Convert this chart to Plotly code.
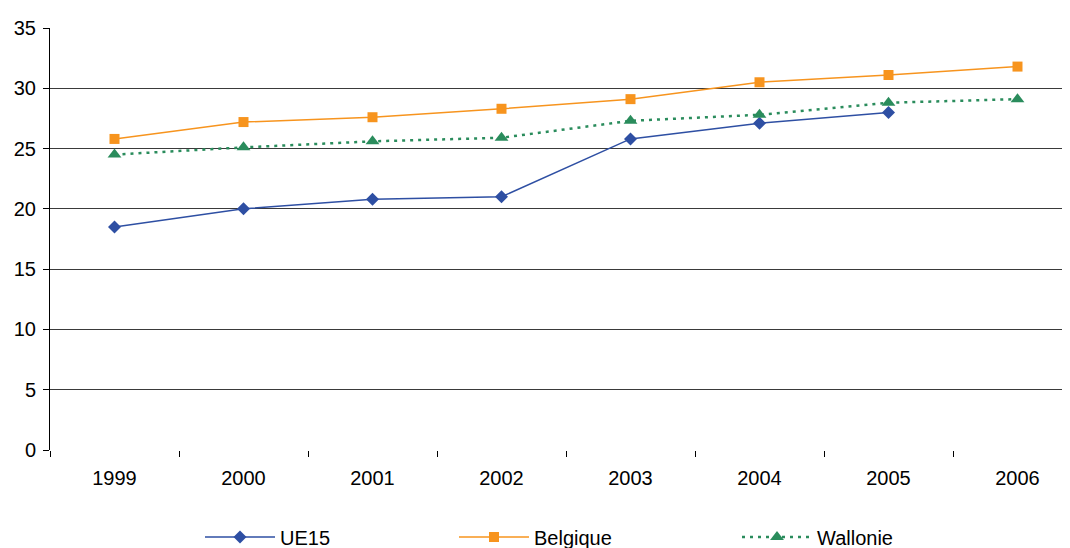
import plotly.graph_objects as go

# data
years = ["1999", "2000", "2001", "2002", "2003", "2004", "2005", "2006"]
ue15 = [18.5, 20.0, 20.8, 21.0, 25.8, 27.1, 28.0, None]
belgique = [25.8, 27.2, 27.6, 28.3, 29.1, 30.5, 31.1, 31.8]
wallonie = [24.5, 25.1, 25.6, 25.9, 27.3, 27.8, 28.8, 29.1]
y_ticks = [0, 5, 10, 15, 20, 25, 30, 35]

# page body has an 8px margin, so the figure is drawn 8px smaller
W, H = 1062, 540
FONT = "Liberation Sans, Arial, sans-serif"
idx = list(range(len(years)))

fig = go.Figure()
fig.add_trace(go.Scatter(
    x=idx, y=ue15, name="UE15", mode="lines+markers",
    line=dict(color="#2E4FA3", width=1.5),
    marker=dict(symbol="diamond", size=10, color="#2E4FA3"),
    legend="legend",
))
fig.add_trace(go.Scatter(
    x=idx, y=belgique, name="Belgique", mode="lines+markers",
    line=dict(color="#F7941E", width=1.5),
    marker=dict(symbol="square", size=10, color="#F7941E"),
    legend="legend2",
))
fig.add_trace(go.Scatter(
    x=idx, y=wallonie, name="Wallonie", mode="lines+markers",
    line=dict(color="#2A8C5C", width=2.5, dash="3px,5px"),
    marker=dict(symbol="triangle-up", size=12, color="#2A8C5C"),
    legend="legend3",
))

left, right, top, bottom = 42, 0, 20, 98
plot_w = W - left - right
plot_h = H - top - bottom
px_per_cat = 129
x_max = -0.5 + plot_w / px_per_cat

leg_y = (H - bottom - 529) / plot_h
leg = dict(
    orientation="h", xanchor="left", yanchor="middle", y=leg_y,
    font=dict(family=FONT, size=20, color="black"),
    itemwidth=70, bgcolor="rgba(0,0,0,0)", borderwidth=0,
)

def leg_x(px):
    return (px - 8 - left) / plot_w

fig.update_layout(
    width=W, height=H,
    margin=dict(l=left, r=right, t=top, b=bottom, autoexpand=False),
    paper_bgcolor="white", plot_bgcolor="white",
    font=dict(family=FONT, size=20, color="black"),
    showlegend=True,
    xaxis=dict(
        range=[-0.5, x_max],
        tickvals=idx, ticktext=years,
        ticks="", showgrid=False, zeroline=False,
        showline=False, ticklabelstandoff=14,
        minor=dict(tickvals=[i - 0.5 for i in range(len(years) + 1)],
                   ticks="outside", ticklen=6, tickcolor="black", tickwidth=1),
        tickfont=dict(family=FONT, size=20),
    ),
    yaxis=dict(
        range=[0, 35], tickvals=y_ticks,
        ticks="outside", ticklen=6, tickcolor="black",
        showgrid=True, gridcolor="#3a3a3a", gridwidth=1,
        showline=True, linecolor="black", linewidth=1,
        zeroline=False, ticklabelstandoff=3,
        tickfont=dict(family=FONT, size=20),
    ),
    legend=dict(leg, x=leg_x(200)),
    legend2=dict(leg, x=leg_x(454)),
    legend3=dict(leg, x=leg_x(737)),
)

fig.write_html("out.html")
